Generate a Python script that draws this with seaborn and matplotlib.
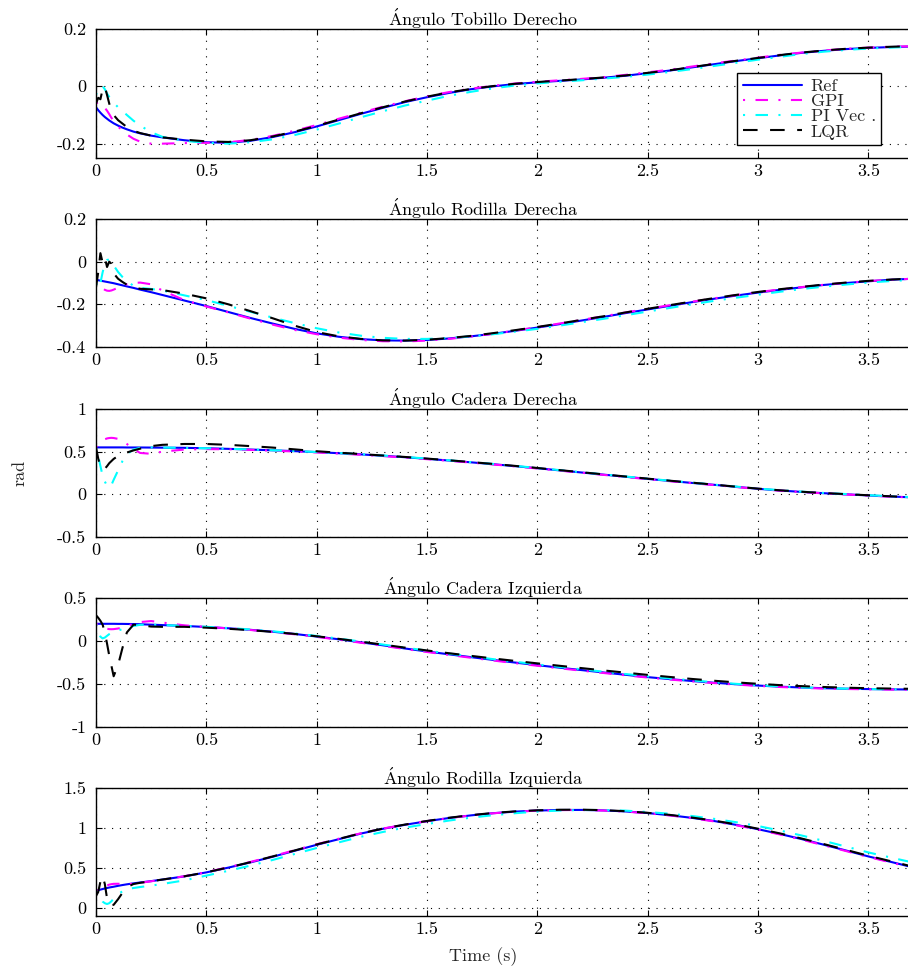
import numpy as np
import pandas as pd
import matplotlib
matplotlib.use("Agg")
import matplotlib.pyplot as plt
from matplotlib.ticker import FuncFormatter, FixedLocator
import seaborn as sns

sns.set_theme(style="ticks")
plt.rcParams['font.family'] = ['cmr10', 'DejaVu Serif']
plt.rcParams['mathtext.fontset'] = 'cm'
plt.rcParams['axes.unicode_minus'] = False
plt.rcParams['axes.formatter.use_mathtext'] = True

# ---------------- data ----------------
T = [0, 0.01, 0.02, 0.03, 0.04, 0.05, 0.06, 0.07, 0.08, 0.1, 0.12, 0.14, 0.17, 0.2, 0.25, 0.3,
     0.4, 0.5, 0.6, 0.7, 0.8, 0.9, 1.0, 1.1, 1.2, 1.3, 1.4, 1.5, 1.6, 1.7, 1.8, 1.9, 2.0,
     2.1, 2.2, 2.3, 2.4, 2.5, 2.6, 2.7, 2.8, 2.9, 3.0, 3.1, 3.2, 3.3, 3.4, 3.5, 3.6, 3.7]

series_names = ["Ref", "GPI", "PI Vec .", "LQR"]
titles = [r"$\mathrm{\acute{A}}$ngulo Tobillo Derecho",
          r"$\mathrm{\acute{A}}$ngulo Rodilla Derecha",
          r"$\mathrm{\acute{A}}$ngulo Cadera Derecha",
          r"$\mathrm{\acute{A}}$ngulo Cadera Izquierda",
          r"$\mathrm{\acute{A}}$ngulo Rodilla Izquierda"]

# Panel 1 - Tobillo Derecho
ref1 = [-0.073, -0.083, -0.092, -0.100, -0.107, -0.113, -0.119, -0.124, -0.129, -0.137, -0.144, -0.150, -0.158, -0.164, -0.172, -0.178,
        -0.188, -0.195, -0.197, -0.190, -0.177, -0.160, -0.140, -0.118, -0.096, -0.075, -0.055, -0.038, -0.023, -0.010, 0.000, 0.008, 0.014,
        0.019, 0.024, 0.030, 0.037, 0.046, 0.055, 0.066, 0.077, 0.088, 0.098, 0.108, 0.117, 0.124, 0.130, 0.134, 0.137, 0.139]
gpi1 = [-0.060, -0.055, -0.060, -0.068, -0.075, -0.085, -0.097, -0.110, -0.120, -0.140, -0.155, -0.168, -0.183, -0.193, -0.200, -0.200,
        -0.198, -0.197, -0.195, -0.187, -0.173, -0.155, -0.135, -0.113, -0.092, -0.071, -0.052, -0.035, -0.020, -0.008, 0.002, 0.010, 0.016,
        0.021, 0.026, 0.032, 0.040, 0.049, 0.058, 0.069, 0.080, 0.090, 0.100, 0.110, 0.118, 0.125, 0.131, 0.135, 0.138, 0.140]
pi1 = [-0.030, -0.010, 0.000, 0.000, -0.010, -0.025, -0.037, -0.047, -0.057, -0.073, -0.086, -0.100, -0.120, -0.137, -0.160, -0.176,
       -0.190, -0.197, -0.200, -0.195, -0.185, -0.170, -0.151, -0.130, -0.108, -0.087, -0.067, -0.050, -0.033, -0.019, -0.007, 0.003, 0.010,
       0.016, 0.021, 0.027, 0.033, 0.041, 0.050, 0.060, 0.071, 0.082, 0.093, 0.103, 0.113, 0.121, 0.127, 0.132, 0.135, 0.138]
lqr1 = [-0.060, -0.040, -0.045, -0.010, 0.000, -0.030, -0.060, -0.085, -0.100, -0.118, -0.130, -0.142, -0.155, -0.163, -0.172, -0.178,
        -0.186, -0.192, -0.194, -0.188, -0.175, -0.158, -0.138, -0.116, -0.094, -0.073, -0.053, -0.036, -0.021, -0.009, 0.001, 0.009, 0.015,
        0.020, 0.025, 0.031, 0.038, 0.047, 0.056, 0.067, 0.078, 0.089, 0.099, 0.109, 0.118, 0.125, 0.131, 0.135, 0.138, 0.140]

# Panel 2 - Rodilla Derecha
ref2 = [-0.085, -0.087, -0.089, -0.091, -0.093, -0.095, -0.097, -0.099, -0.101, -0.106, -0.111, -0.116, -0.123, -0.131, -0.143, -0.156,
        -0.182, -0.208, -0.236, -0.264, -0.290, -0.315, -0.336, -0.352, -0.363, -0.369, -0.370, -0.367, -0.360, -0.350, -0.338, -0.324, -0.309,
        -0.293, -0.276, -0.259, -0.241, -0.224, -0.207, -0.190, -0.174, -0.159, -0.145, -0.132, -0.120, -0.109, -0.100, -0.092, -0.085, -0.080]
gpi2 = [-0.085, -0.100, -0.115, -0.125, -0.132, -0.136, -0.137, -0.135, -0.131, -0.122, -0.113, -0.106, -0.100, -0.098, -0.106, -0.135,
        -0.180, -0.210, -0.238, -0.267, -0.295, -0.320, -0.340, -0.356, -0.367, -0.373, -0.374, -0.370, -0.362, -0.351, -0.338, -0.323, -0.307,
        -0.290, -0.273, -0.256, -0.238, -0.221, -0.204, -0.188, -0.172, -0.157, -0.143, -0.130, -0.119, -0.108, -0.099, -0.091, -0.085, -0.080]
pi2 = [-0.100, -0.125, -0.100, -0.050, -0.010, 0.008, 0.010, 0.000, -0.018, -0.048, -0.072, -0.092, -0.113, -0.123, -0.128, -0.135,
       -0.158, -0.180, -0.207, -0.235, -0.262, -0.288, -0.312, -0.332, -0.347, -0.357, -0.362, -0.362, -0.358, -0.350, -0.340, -0.328, -0.315,
       -0.300, -0.284, -0.268, -0.251, -0.234, -0.217, -0.200, -0.184, -0.169, -0.155, -0.141, -0.128, -0.117, -0.107, -0.098, -0.091, -0.085]
lqr2 = [-0.120, -0.050, 0.040, -0.005, 0.020, -0.025, 0.000, -0.010, -0.055, -0.080, -0.095, -0.108, -0.120, -0.127, -0.130, -0.133,
        -0.150, -0.172, -0.200, -0.232, -0.265, -0.300, -0.330, -0.350, -0.362, -0.369, -0.370, -0.366, -0.358, -0.348, -0.335, -0.321, -0.306,
        -0.290, -0.273, -0.256, -0.238, -0.221, -0.204, -0.187, -0.171, -0.156, -0.142, -0.129, -0.118, -0.107, -0.098, -0.090, -0.084, -0.079]

# Panel 3 - Cadera Derecha
ref3 = [0.550, 0.550, 0.550, 0.550, 0.550, 0.550, 0.550, 0.550, 0.550, 0.550, 0.550, 0.549, 0.549, 0.549, 0.548, 0.547,
        0.545, 0.540, 0.533, 0.525, 0.516, 0.506, 0.495, 0.482, 0.468, 0.452, 0.435, 0.416, 0.396, 0.375, 0.353, 0.330, 0.306,
        0.281, 0.256, 0.231, 0.206, 0.181, 0.157, 0.134, 0.112, 0.088, 0.065, 0.045, 0.028, 0.013, 0.000, -0.013, -0.025, -0.036]
gpi3 = [0.550, 0.580, 0.610, 0.630, 0.645, 0.655, 0.660, 0.662, 0.660, 0.650, 0.625, 0.590, 0.530, 0.485, 0.475, 0.500,
        0.525, 0.530, 0.528, 0.521, 0.512, 0.502, 0.491, 0.478, 0.464, 0.448, 0.431, 0.412, 0.393, 0.372, 0.350, 0.327, 0.303,
        0.278, 0.253, 0.228, 0.203, 0.178, 0.154, 0.131, 0.109, 0.086, 0.063, 0.043, 0.026, 0.011, -0.002, -0.015, -0.027, -0.038]
pi3 = [0.550, 0.450, 0.330, 0.220, 0.150, 0.100, 0.080, 0.110, 0.170, 0.280, 0.390, 0.470, 0.525, 0.545, 0.550, 0.548,
       0.545, 0.540, 0.534, 0.526, 0.517, 0.507, 0.496, 0.484, 0.470, 0.455, 0.438, 0.419, 0.399, 0.378, 0.356, 0.333, 0.309,
       0.284, 0.259, 0.234, 0.209, 0.184, 0.160, 0.137, 0.114, 0.091, 0.068, 0.048, 0.031, 0.016, 0.003, -0.010, -0.022, -0.033]
lqr3 = [0.550, 0.420, 0.320, 0.290, 0.300, 0.330, 0.365, 0.390, 0.415, 0.450, 0.470, 0.490, 0.515, 0.535, 0.565, 0.580,
        0.590, 0.590, 0.580, 0.565, 0.548, 0.527, 0.505, 0.488, 0.472, 0.455, 0.438, 0.419, 0.399, 0.378, 0.356, 0.333, 0.309,
        0.284, 0.259, 0.234, 0.209, 0.184, 0.160, 0.137, 0.114, 0.090, 0.067, 0.047, 0.030, 0.015, 0.002, -0.011, -0.023, -0.034]

# Panel 4 - Cadera Izquierda
ref4 = [0.200, 0.200, 0.200, 0.200, 0.200, 0.200, 0.200, 0.200, 0.200, 0.199, 0.199, 0.198, 0.197, 0.195, 0.190, 0.185,
        0.175, 0.163, 0.148, 0.130, 0.108, 0.082, 0.052, 0.020, -0.015, -0.050, -0.087, -0.122, -0.155, -0.188, -0.220, -0.251, -0.281,
        -0.310, -0.338, -0.366, -0.393, -0.420, -0.443, -0.465, -0.485, -0.503, -0.518, -0.531, -0.541, -0.549, -0.555, -0.559, -0.562, -0.564]
gpi4 = [0.200, 0.190, 0.175, 0.160, 0.150, 0.142, 0.138, 0.137, 0.138, 0.145, 0.157, 0.175, 0.200, 0.220, 0.232, 0.215,
        0.182, 0.163, 0.147, 0.128, 0.105, 0.078, 0.048, 0.015, -0.020, -0.056, -0.093, -0.128, -0.162, -0.195, -0.227, -0.258, -0.288,
        -0.317, -0.345, -0.372, -0.399, -0.425, -0.448, -0.469, -0.489, -0.507, -0.522, -0.535, -0.545, -0.553, -0.558, -0.562, -0.565, -0.567]
pi4 = [0.200, 0.120, 0.050, 0.030, 0.040, 0.060, 0.080, 0.095, 0.105, 0.120, 0.140, 0.155, 0.175, 0.188, 0.190, 0.185,
       0.176, 0.165, 0.151, 0.134, 0.113, 0.088, 0.059, 0.028, -0.006, -0.041, -0.077, -0.112, -0.146, -0.179, -0.211, -0.242, -0.272,
       -0.301, -0.329, -0.357, -0.384, -0.411, -0.435, -0.458, -0.479, -0.498, -0.514, -0.528, -0.539, -0.548, -0.554, -0.559, -0.562, -0.564]
lqr4 = [0.300, 0.270, 0.235, 0.190, 0.100, -0.030, -0.170, -0.290, -0.410, -0.280, -0.080, 0.100, 0.190, 0.185, 0.168, 0.165,
        0.165, 0.155, 0.142, 0.126, 0.106, 0.082, 0.055, 0.025, -0.008, -0.042, -0.077, -0.110, -0.142, -0.173, -0.203, -0.232, -0.260,
        -0.288, -0.315, -0.342, -0.368, -0.394, -0.418, -0.441, -0.462, -0.481, -0.498, -0.513, -0.525, -0.535, -0.543, -0.549, -0.553, -0.556]

# Panel 5 - Rodilla Izquierda
ref5 = [0.215, 0.222, 0.230, 0.237, 0.244, 0.250, 0.256, 0.261, 0.266, 0.277, 0.287, 0.296, 0.308, 0.319, 0.336, 0.355,
        0.395, 0.445, 0.505, 0.570, 0.640, 0.715, 0.790, 0.860, 0.930, 0.990, 1.040, 1.085, 1.125, 1.158, 1.185, 1.205, 1.218,
        1.225, 1.226, 1.220, 1.207, 1.187, 1.160, 1.127, 1.088, 1.040, 0.985, 0.925, 0.860, 0.790, 0.718, 0.645, 0.578, 0.510]
gpi5 = [0.215, 0.225, 0.240, 0.255, 0.270, 0.282, 0.292, 0.298, 0.302, 0.303, 0.300, 0.298, 0.303, 0.315, 0.334, 0.355,
        0.397, 0.448, 0.510, 0.576, 0.647, 0.722, 0.797, 0.866, 0.934, 0.993, 1.042, 1.086, 1.125, 1.157, 1.184, 1.204, 1.217,
        1.224, 1.225, 1.218, 1.205, 1.184, 1.157, 1.123, 1.083, 1.035, 0.980, 0.919, 0.853, 0.783, 0.711, 0.638, 0.571, 0.503]
pi5 = [0.215, 0.170, 0.120, 0.080, 0.060, 0.050, 0.060, 0.085, 0.115, 0.170, 0.210, 0.235, 0.250, 0.262, 0.280, 0.300,
       0.345, 0.405, 0.465, 0.530, 0.600, 0.675, 0.750, 0.820, 0.890, 0.950, 1.005, 1.050, 1.093, 1.130, 1.160, 1.185, 1.205,
       1.218, 1.225, 1.225, 1.217, 1.200, 1.178, 1.150, 1.115, 1.073, 1.025, 0.968, 0.905, 0.838, 0.767, 0.695, 0.632, 0.570]
lqr5 = [0.150, 0.200, 0.330, 0.400, 0.300, 0.120, 0.040, 0.035, 0.040, 0.110, 0.190, 0.260, 0.300, 0.315, 0.335, 0.355,
        0.396, 0.446, 0.507, 0.573, 0.644, 0.719, 0.794, 0.864, 0.933, 0.993, 1.043, 1.088, 1.128, 1.161, 1.188, 1.208, 1.221,
        1.228, 1.229, 1.223, 1.210, 1.190, 1.164, 1.131, 1.093, 1.046, 0.991, 0.932, 0.867, 0.798, 0.726, 0.653, 0.586, 0.518]

panels = [[ref1, gpi1, pi1, lqr1], [ref2, gpi2, pi2, lqr2], [ref3, gpi3, pi3, lqr3],
          [ref4, gpi4, pi4, lqr4], [ref5, gpi5, pi5, lqr5]]
ylims = [(-0.25, 0.2), (-0.4, 0.2), (-0.5, 1.0), (-1.0, 0.5), (-0.1, 1.5)]
yticks = [[-0.2, 0, 0.2], [-0.4, -0.2, 0, 0.2], [-0.5, 0, 0.5, 1], [-1, -0.5, 0, 0.5], [0, 0.5, 1, 1.5]]
xticks = [0, 0.5, 1, 1.5, 2, 2.5, 3, 3.5]

# ---------------- styles ----------------
colors = ['#0000ff', '#ff00ff', '#00ffff', '#000000']
styles = ['-', (0, (1, 5, 6, 5)), (0, (1, 5, 6, 5)), (0, (7, 6))]
widths = [1.5, 1.5, 1.5, 1.5]

W, H = 908, 971
fig = plt.figure(figsize=(W / 100, H / 100), dpi=100)
tops = [29, 219, 409, 598, 788]
bots = [158, 347, 537, 727, 916]
left_px = 96
FS = 13

fmt = FuncFormatter(lambda v, p: ('%g' % v))

axes = []
for i in range(5):
    ax = fig.add_axes([left_px / W, 1 - bots[i] / H, (W - left_px) / W, (bots[i] - tops[i]) / H])
    axes.append(ax)
    for j, vals in enumerate(panels[i]):
        df = pd.DataFrame({"t": T, "v": vals})
        sns.lineplot(data=df, x="t", y="v", ax=ax, color=colors[j], linestyle=styles[j],
                     linewidth=widths[j], estimator=None, sort=False, legend=False,
                     label=series_names[j])
    ax.set_xlim(0, 3.68)
    ax.set_ylim(*ylims[i])
    ax.xaxis.set_major_locator(FixedLocator(xticks))
    ax.yaxis.set_major_locator(FixedLocator(yticks[i]))
    ax.xaxis.set_major_formatter(fmt)
    ax.yaxis.set_major_formatter(fmt)
    ax.tick_params(direction='in', length=4, width=0.8, top=True, right=False,
                   labelsize=FS, colors='black')
    ax.tick_params(axis='x', pad=4)
    ax.tick_params(axis='y', pad=7)
    ax.grid(True, color='black', linestyle=(0, (1, 6)), linewidth=0.8)
    for s in ['top', 'left', 'bottom']:
        ax.spines[s].set_linewidth(1.0)
        ax.spines[s].set_color('black')
    ax.spines['right'].set_visible(False)
    ax.set_xlabel('')
    ax.set_ylabel('')
    ax.set_title(titles[i], fontsize=FS, x=0.4766, pad=2, color='black')
    if ax.get_legend() is not None:
        ax.get_legend().remove()

ax0 = axes[0]
handles = ax0.get_lines()[:4]
leg = ax0.legend(handles, series_names, loc='upper left', bbox_to_anchor=(0.79, 0.66),
                 fontsize=FS, frameon=True, fancybox=False, framealpha=1, edgecolor='black',
                 handlelength=3.3, handletextpad=0.45, labelspacing=-0.02, borderpad=0.3,
                 borderaxespad=0)
leg.get_frame().set_linewidth(1.0)

fig.text(20 / W, 1 - 473 / H, 'rad', rotation=90, ha='center', va='center', fontsize=FS)
fig.text(483 / W, 1 - 957 / H, 'Time (s)', ha='center', va='center', fontsize=FS)

fig.savefig('out.png', dpi=100)
